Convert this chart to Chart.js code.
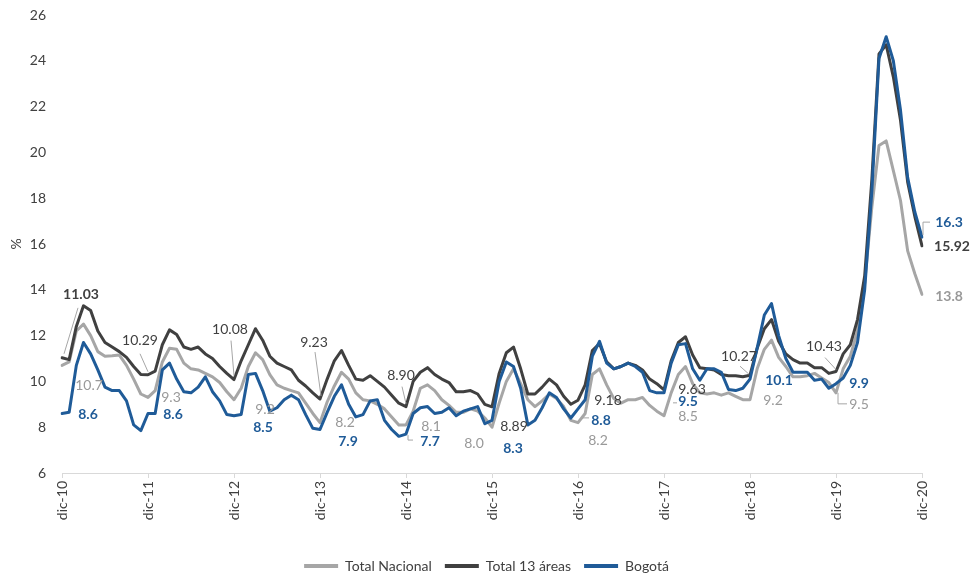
<!DOCTYPE html>
<html>
<head>
<meta charset="utf-8">
<script src="https://cdn.jsdelivr.net/npm/chart.js@4.4.1/dist/chart.umd.min.js"></script>
<style>
  html, body { margin: 0; padding: 0; background: #ffffff; }
  #wrap { width: 973px; height: 575px; }
</style>
</head>
<body>
<div id="wrap"><canvas id="chart" width="973" height="575"></canvas></div>
<script>
// Monthly labels from dic-10 to dic-20
const monthNames = ['dic', 'ene', 'feb', 'mar', 'abr', 'may', 'jun', 'jul', 'ago', 'sep', 'oct', 'nov'];
const months = [];
for (let i = 0; i <= 120; i++) {
  const yy = 10 + Math.floor((i + 11) / 12);
  months.push(monthNames[i % 12] + '-' + yy);
}

// Axis tick labels shown on the x axis
const tickLabels = ['dic-10', 'dic-11', 'dic-12', 'dic-13', 'dic-14', 'dic-15',
                    'dic-16', 'dic-17', 'dic-18', 'dic-19', 'dic-20'];

const seriesNames = ['Total Nacional', 'Total 13 áreas', 'Bogotá'];

// Unemployment rate (%)
const totalNacional = [
  10.7, 10.85, 12.2, 12.5, 12.0, 11.3, 11.1, 11.12, 11.15, 10.7, 10.1, 9.45, 9.3,
  9.6, 10.85, 11.45, 11.4, 10.8, 10.55, 10.5, 10.35, 10.2, 9.95, 9.55, 9.2,
  9.7, 10.65, 11.25, 10.95, 10.3, 9.85, 9.7, 9.6, 9.5, 9.05, 8.6, 8.2,
  9.1, 9.8, 10.4, 10.1, 9.5, 9.2, 9.15, 9.0, 8.8, 8.45, 8.1, 8.1,
  8.7, 9.7, 9.85, 9.6, 9.2, 8.95, 8.65, 8.65, 8.8, 8.7, 8.4, 8.0,
  9.05, 10.0, 10.55, 9.9, 9.2, 8.9, 9.15, 9.45, 9.25, 8.9, 8.3, 8.2,
  8.6, 10.3, 10.55, 9.85, 9.25, 9.05, 9.2, 9.2, 9.3, 8.95, 8.7, 8.5,
  9.5, 10.3, 10.65, 9.9, 9.5, 9.45, 9.5, 9.4, 9.5, 9.35, 9.2, 9.2,
  10.55, 11.4, 11.8, 11.05, 10.65, 10.2, 10.2, 10.25, 10.35, 10.15, 9.95, 9.5,
  10.55, 11.1, 12.2, 14.3, 17.6, 20.3, 20.5, 19.2, 17.9, 15.7, 14.7, 13.8
];

const total13Areas = [
  11.03, 10.95, 12.4, 13.3, 13.1, 12.2, 11.7, 11.5, 11.3, 11.05, 10.65, 10.3, 10.29,
  10.45, 11.6, 12.25, 12.05, 11.5, 11.4, 11.5, 11.2, 11.0, 10.65, 10.35, 10.08,
  10.9, 11.6, 12.3, 11.8, 11.1, 10.8, 10.65, 10.5, 10.05, 9.8, 9.5, 9.23,
  10.1, 10.9, 11.35, 10.7, 10.1, 10.05, 10.25, 10.0, 9.75, 9.4, 9.05, 8.90,
  10.0, 10.4, 10.6, 10.3, 10.1, 9.95, 9.55, 9.55, 9.6, 9.45, 9.0, 8.89,
  10.35, 11.25, 11.5, 10.55, 9.45, 9.45, 9.75, 10.1, 9.85, 9.35, 9.0, 9.18,
  9.85, 11.35, 11.65, 10.85, 10.55, 10.65, 10.8, 10.7, 10.5, 10.1, 9.9, 9.63,
  10.9, 11.7, 11.95, 11.15, 10.6, 10.55, 10.5, 10.3, 10.25, 10.25, 10.2, 10.27,
  11.45, 12.3, 12.7, 11.75, 11.2, 10.95, 10.8, 10.8, 10.6, 10.6, 10.35, 10.43,
  11.2, 11.6, 12.7, 14.6, 18.8, 24.3, 24.7, 23.3, 21.4, 18.7, 17.2, 15.92
];

const bogota = [
  8.6, 8.65, 10.7, 11.7, 11.2, 10.5, 9.75, 9.6, 9.6, 9.15, 8.1, 7.85, 8.6,
  8.6, 10.5, 10.8, 10.1, 9.55, 9.5, 9.75, 10.2, 9.55, 9.15, 8.55, 8.5,
  8.55, 10.3, 10.35, 9.6, 8.7, 8.85, 9.2, 9.4, 9.2, 8.55, 7.95, 7.9,
  8.65, 9.35, 9.85, 9.0, 8.45, 8.55, 9.15, 9.2, 8.3, 7.9, 7.6, 7.7,
  8.6, 8.85, 8.9, 8.6, 8.65, 8.85, 8.5, 8.7, 8.8, 8.9, 8.15, 8.3,
  10.0, 10.85, 10.65, 9.7, 8.1, 8.3, 8.85, 9.5, 9.3, 8.8, 8.4, 8.8,
  9.2, 11.1, 11.75, 10.8, 10.55, 10.65, 10.8, 10.65, 10.4, 9.6, 9.5, 9.5,
  10.8, 11.6, 11.65, 10.55, 10.05, 10.55, 10.55, 10.4, 9.65, 9.6, 9.7, 10.1,
  11.45, 12.9, 13.4, 12.0, 11.0, 10.4, 10.4, 10.4, 10.05, 10.1, 9.7, 9.9,
  10.15, 10.7, 11.7, 14.0, 18.3, 24.1, 25.05, 24.0, 21.85, 18.9, 17.4, 16.3
];

// Months that carry a value label (every December)
const labelledMonths = tickLabels;

// Visual styles
const FONT = 'Lato, "Liberation Sans", sans-serif';
const lineColors = ['#A6A6A6', '#404040', '#1F5B98'];
const labelColors = ['#999999', '#404040', '#1F5B98'];
const labelDecimals = [1, 2, 1];

// Offsets of each value label from its point (px) and optional leader line
// (leader points are relative to the data point)
const labelPlacement = [
  // Total Nacional
  { 'dic-10': { dx: 27, dy: 20 }, 'dic-11': { dx: 23, dy: 0 }, 'dic-12': { dx: 31, dy: 10 },
    'dic-13': { dx: 25, dy: 0 }, 'dic-14': { dx: 25, dy: 2 }, 'dic-15': { dx: -18, dy: 16 },
    'dic-16': { dx: 20, dy: 18 }, 'dic-17': { dx: 24, dy: 1 }, 'dic-18': { dx: 23, dy: 1 },
    'dic-19': { dx: 23, dy: 12, leader: [[2, 0], [2, 11], [11, 11]] },
    'dic-20': { dx: 27, dy: 2, bold: true } },
  // Total 13 áreas
  { 'dic-10': { dx: 19, dy: -63, bold: true, leader: [[16, -50], [2, -4]] },
    'dic-11': { dx: -8, dy: -34, leader: [[-8, -21], [0, -3]] },
    'dic-12': { dx: -4, dy: -50, leader: [[-3, -39], [0, -4]] },
    'dic-13': { dx: -6, dy: -57, leader: [[-5, -47], [1, -3]] },
    'dic-14': { dx: -5, dy: -31, leader: [[-4, -20], [0, -3]] },
    'dic-15': { dx: 22, dy: 20 },
    'dic-16': { dx: 30, dy: 0 }, 'dic-17': { dx: 28, dy: 0 },
    'dic-18': { dx: -11, dy: -19, leader: [[-10, -9], [-1, -1]] },
    'dic-19': { dx: -12, dy: -25, leader: [[-11, -14], [0, -2]] },
    'dic-20': { dx: 30, dy: 1, bold: true } },
  // Bogotá
  { 'dic-10': { dx: 26, dy: 1 }, 'dic-11': { dx: 25, dy: 1 }, 'dic-12': { dx: 29, dy: 12 },
    'dic-13': { dx: 28, dy: 12 },
    'dic-14': { dx: 24, dy: 7, leader: [[2, 1], [2, 6], [7, 6]] },
    'dic-15': { dx: 21, dy: 28 },
    'dic-16': { dx: 23, dy: 12, leader: [[5, 9], [11, 9]] },
    'dic-17': { dx: 24, dy: 9, leader: [[9, 10], [13, 10]] },
    'dic-18': { dx: 29, dy: 1 }, 'dic-19': { dx: 23, dy: 0 },
    'dic-20': { dx: 27, dy: -15, leader: [[1, -2], [1, -15], [8, -15]] } }
];
const boldSeries = [false, false, true];

// Draws the December value labels with their leader lines
const valueLabels = {
  id: 'valueLabels',
  afterDatasetsDraw(chart) {
    const ctx = chart.ctx;
    ctx.save();
    chart.data.datasets.forEach((ds, k) => {
      const meta = chart.getDatasetMeta(k);
      labelledMonths.forEach(m => {
        const i = months.indexOf(m);
        const place = labelPlacement[k][m];
        if (i < 0 || !place) return;
        const pt = meta.data[i];
        const v = ds.data[i];
        if (place.leader) {
          ctx.beginPath();
          ctx.strokeStyle = '#A6A6A6';
          ctx.lineWidth = 1;
          place.leader.forEach(([lx, ly], j) => {
            if (j === 0) ctx.moveTo(pt.x + lx, pt.y + ly);
            else ctx.lineTo(pt.x + lx, pt.y + ly);
          });
          ctx.stroke();
        }
        const bold = boldSeries[k] || place.bold;
        ctx.font = (bold ? 'bold ' : '') + '14px ' + FONT;
        ctx.fillStyle = labelColors[k];
        ctx.textAlign = 'center';
        ctx.textBaseline = 'middle';
        ctx.fillText(v.toFixed(labelDecimals[k]), pt.x + place.dx, pt.y + place.dy);
      });
    });
    ctx.restore();
  }
};

const seriesData = [totalNacional, total13Areas, bogota];
const drawOrder = [3, 2, 1];

new Chart(document.getElementById('chart'), {
  type: 'line',
  data: {
    labels: months,
    datasets: seriesData.map((d, k) => ({
      label: seriesNames[k],
      data: d,
      borderColor: lineColors[k],
      backgroundColor: lineColors[k],
      borderWidth: 3,
      pointRadius: 0,
      tension: 0,
      borderJoinStyle: 'round',
      borderCapStyle: 'round',
      order: drawOrder[k]
    }))
  },
  options: {
    responsive: false,
    animation: false,
    devicePixelRatio: 1,
    layout: { padding: { left: 0, right: 0, top: 15, bottom: -8 } },
    plugins: {
      legend: {
        position: 'bottom',
        labels: {
          boxWidth: 34,
          boxHeight: 4,
          padding: 13,
          color: '#404040',
          font: { family: FONT, size: 14 },
          sort: (a, b) => a.datasetIndex - b.datasetIndex,
          generateLabels(chart) {
            return Chart.defaults.plugins.legend.labels.generateLabels(chart)
              .map(it => Object.assign(it, { fillStyle: it.strokeStyle, lineWidth: 0 }));
          }
        }
      },
      tooltip: { enabled: false }
    },
    scales: {
      x: {
        type: 'category',
        offset: false,
        grid: { display: true, drawOnChartArea: false, drawTicks: true, tickLength: 5, color: '#D9D9D9' },
        border: { display: true, color: '#D9D9D9', width: 1 },
        ticks: {
          autoSkip: false,
          minRotation: 90,
          maxRotation: 90,
          padding: 3,
          color: '#404040',
          font: { family: FONT, size: 14 },
          callback(value, index) {
            return tickLabels.includes(months[index]) ? months[index] : null;
          }
        },
        afterFit(scale) { scale.height = 73; scale.paddingLeft = 0; scale.paddingRight = 0; }
      },
      y: {
        min: 6,
        max: 26,
        ticks: { stepSize: 2, padding: 16, color: '#404040', font: { family: FONT, size: 14 } },
        grid: { display: false, drawTicks: false },
        border: { display: false },
        title: { display: true, text: '%', color: '#404040', font: { family: FONT, size: 14 }, padding: { top: 8, bottom: 0 } },
        afterFit(scale) { scale.width = 62; scale.paddingTop = 0; scale.paddingBottom = 0; }
      },
      // empty right margin axis, keeps the plot narrower than the legend row
      margin: {
        position: 'right',
        display: true,
        grid: { display: false, drawTicks: false },
        border: { display: false },
        ticks: { display: false },
        afterFit(scale) { scale.width = 51; scale.paddingTop = 0; scale.paddingBottom = 0; }
      }
    }
  },
  plugins: [valueLabels]
});
</script>
</body>
</html>
